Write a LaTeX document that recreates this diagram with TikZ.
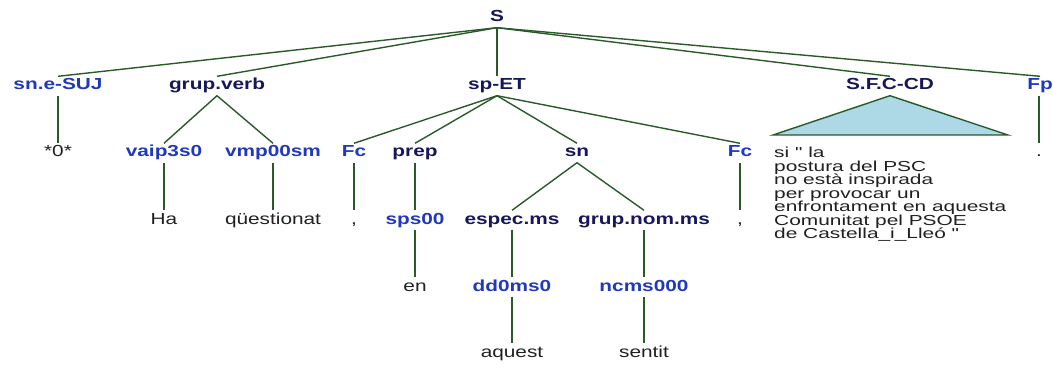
\documentclass[tikz,border=0pt]{standalone}
\usepackage{fontspec}
\setmainfont{Liberation Sans}[FakeStretch=1.3]
\newfontfamily\clausefam{Liberation Sans}[FakeStretch=1.44]
\definecolor{navy}{HTML}{16165A}
\definecolor{tagblue}{HTML}{1F38BE}
\definecolor{edge}{HTML}{2A5A2A}
\definecolor{word}{HTML}{202020}
\definecolor{tri}{HTML}{ADD8E6}
\newcommand{\myclausefont}{\clausefam\fontsize{14.5}{13.5}\selectfont\lineskiplimit=-50pt\relax}
\newcommand{\dq}{\symbol{34}}
\tikzset{
  base/.style={inner sep=2.5pt, text height=11pt, text depth=3pt, font=\fontsize{16}{16}\selectfont},
  cat/.style={base, text=navy, font=\fontsize{16}{16}\selectfont\bfseries},
  tag/.style={base, text=tagblue, font=\fontsize{16}{16}\selectfont\bfseries},
  wd/.style={base, text=word},
  con/.style={draw=edge, line width=1.4pt},
}
\begin{document}
\begin{tikzpicture}[x=1pt,y=-1pt]
\useasboundingbox (0,0) rectangle (1053,369);
% level 0
\node[cat] (S) at (497,18) {S};
% level 1
\node[tag] (sne) at (58,86) {sn.e-SUJ};
\node[cat] (gv) at (217,86) {grup.verb};
\node[cat] (spet) at (497,86) {sp-ET};
\node[cat] (sfc) at (890,86) {S.F.C-CD};
\node[tag] (fp) at (1040,86) {Fp};
% level 2
\node[wd] (zero) at (58,153) {*0*};
\node[tag] (vaip) at (164,153) {vaip3s0};
\node[tag] (vmp) at (273,153) {vmp00sm};
\node[tag] (fca) at (354,153) {Fc};
\node[cat] (prep) at (415,153) {prep};
\node[cat] (sn) at (577,153) {sn};
\node[tag] (fcb) at (740,153) {Fc};
\node[wd] (dot) at (1039,153) {.};
% level 3
\node[wd] (ha) at (164,220) {Ha};
\node[wd] (quest) at (273,220) {qüestionat};
\node[wd] (comma) at (354,220) {,};
\node[tag] (sps) at (415,220) {sps00};
\node[cat] (espec) at (512,220) {espec.ms};
\node[cat] (gnom) at (644,220) {grup.nom.ms};
\node[wd] (commb) at (740,220) {,};
% level 4
\node[wd] (en) at (415,287) {en};
\node[tag] (dd) at (512,287) {dd0ms0};
\node[tag] (ncms) at (644,287) {ncms000};
% level 5
\node[wd] (aquest) at (512,353) {aquest};
\node[wd] (sentit) at (644,353) {sentit};
% collapsed clause
\coordinate (tl) at (773,135);
\coordinate (tr) at (1008,135);
\filldraw[con, fill=tri] (sfc.south) -- (tl) -- (tr) -- cycle;
\node[anchor=north west, inner sep=0pt, align=left, text=word,
  font=\myclausefont] (clause) at (774,147)
  {si \dq{} la\\postura del PSC\\no està inspirada\\per provocar un\\enfrontament en aquesta\\Comunitat pel PSOE\\de Castella\_i\_Lleó \dq};
% connectors
\draw[con] (S.south) -- (sne.north);
\draw[con] (S.south) -- (gv.north);
\draw[con] (S.south) -- (spet.north);
\draw[con] (S.south) -- (sfc.north);
\draw[con] (S.south) -- (fp.north);
\draw[con] (sne.south) -- (zero.north);
\draw[con] (gv.south) -- (vaip.north);
\draw[con] (gv.south) -- (vmp.north);
\draw[con] (vaip.south) -- (ha.north);
\draw[con] (vmp.south) -- (quest.north);
\draw[con] (spet.south) -- (fca.north);
\draw[con] (spet.south) -- (prep.north);
\draw[con] (spet.south) -- (sn.north);
\draw[con] (spet.south) -- (fcb.north);
\draw[con] (fca.south) -- (comma.north);
\draw[con] (prep.south) -- (sps.north);
\draw[con] (sps.south) -- (en.north);
\draw[con] (sn.south) -- (espec.north);
\draw[con] (sn.south) -- (gnom.north);
\draw[con] (espec.south) -- (dd.north);
\draw[con] (dd.south) -- (aquest.north);
\draw[con] (gnom.south) -- (ncms.north);
\draw[con] (ncms.south) -- (sentit.north);
\draw[con] (fcb.south) -- (commb.north);
\draw[con] (fp.south -| dot.north) -- (dot.north);
\end{tikzpicture}
\end{document}
